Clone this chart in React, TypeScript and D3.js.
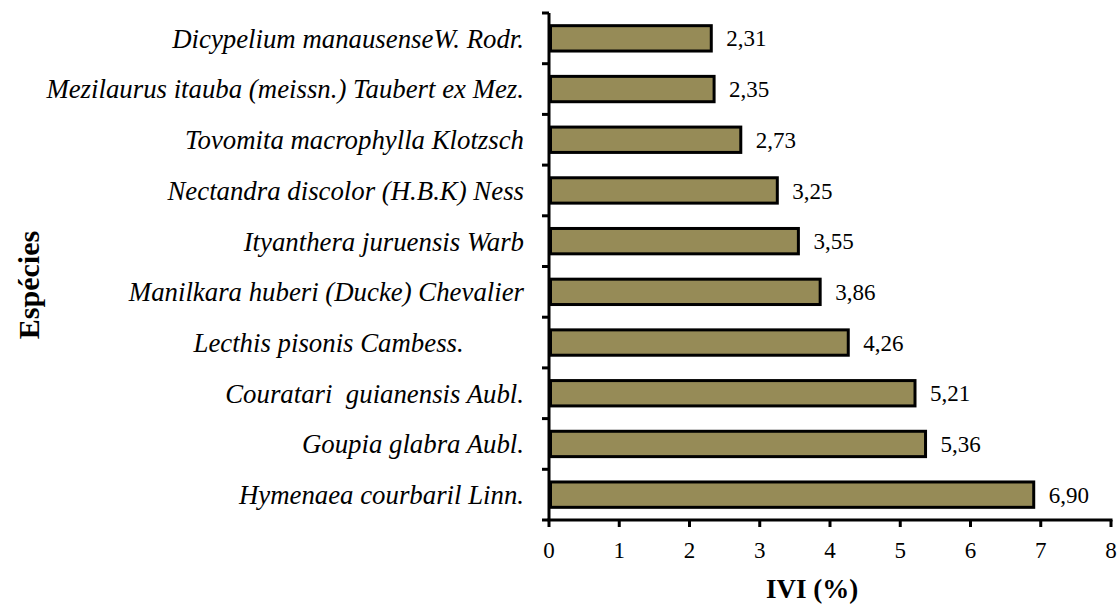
import React, { useEffect, useRef } from "react";
import * as d3 from "d3";

// species, top to bottom as drawn (trailing/double spaces kept as in the source)
const species = [
  "Dicypelium manausenseW. Rodr.",
  "Mezilaurus itauba (meissn.) Taubert ex Mez.",
  "Tovomita macrophylla Klotzsch",
  "Nectandra discolor (H.B.K) Ness",
  "Ityanthera juruensis Warb",
  "Manilkara huberi (Ducke) Chevalier",
  "Lecthis pisonis Cambess.         ",
  "Couratari  guianensis Aubl.",
  "Goupia glabra Aubl.",
  "Hymenaea courbaril Linn.",
];
const ivi = [2.31, 2.35, 2.73, 3.25, 3.55, 3.86, 4.26, 5.21, 5.36, 6.9];
const xTicks = [0, 1, 2, 3, 4, 5, 6, 7, 8];

const W = 1120;
const H = 605;
const FONT = "'Liberation Serif', 'Times New Roman', serif";

const App = () => {
  const svgRef = useRef(null);

  useEffect(() => {
    const svg = d3.select(svgRef.current);
    svg.selectAll("*").remove();

    const margin = { top: 13, right: 9, bottom: 85, left: 549 };

    const xScale = d3
      .scaleLinear()
      .domain([0, 8])
      .range([margin.left, W - margin.right]);

    const yScale = d3
      .scaleBand()
      .domain(species)
      .range([margin.top, H - margin.bottom])
      .paddingInner(0.5)
      .paddingOuter(0.25);

    const step = yScale.step();
    const bottom = H - margin.bottom;

    // bars
    svg
      .append("g")
      .selectAll("rect")
      .data(species)
      .enter()
      .append("rect")
      .attr("x", xScale(0) + 1.5)
      .attr("y", (d) => yScale(d))
      .attr("width", (d, i) => xScale(ivi[i]) - xScale(0) - 1.5)
      .attr("height", yScale.bandwidth())
      .attr("fill", "#968b57")
      .attr("stroke", "#000")
      .attr("stroke-width", 3);

    // value labels
    svg
      .append("g")
      .selectAll("text")
      .data(species)
      .enter()
      .append("text")
      .attr("x", (d, i) => xScale(ivi[i]) + 15)
      .attr("y", (d) => yScale(d) + yScale.bandwidth() / 2)
      .attr("dy", "0.35em")
      .style("font-family", FONT)
      .style("font-size", "23px")
      .text((d, i) => ivi[i].toFixed(2).replace(".", ","));

    // y axis line + ticks between categories
    const yAxis = svg.append("g");
    yAxis
      .append("line")
      .attr("x1", xScale(0))
      .attr("x2", xScale(0))
      .attr("y1", margin.top)
      .attr("y2", bottom)
      .attr("stroke", "#000")
      .attr("stroke-width", 3);
    yAxis
      .selectAll(".ytick")
      .data(d3.range(species.length + 1))
      .enter()
      .append("line")
      .attr("x1", xScale(0) - 7)
      .attr("x2", xScale(0))
      .attr("y1", (i) => margin.top + i * step)
      .attr("y2", (i) => margin.top + i * step)
      .attr("stroke", "#000")
      .attr("stroke-width", 3);

    // category labels
    yAxis
      .selectAll(".ylabel")
      .data(species)
      .enter()
      .append("text")
      .attr("xml:space", "preserve")
      .attr("x", xScale(0) - 25)
      .attr("y", (d) => yScale(d) + yScale.bandwidth() / 2)
      .attr("dy", "0.35em")
      .attr("text-anchor", "end")
      .style("font-family", FONT)
      .style("font-size", "26.8px")
      .style("font-style", "italic")
      .style("white-space", "pre")
      .text((d) => d);

    // x axis
    const xAxis = svg.append("g");
    xAxis
      .append("line")
      .attr("x1", xScale(0) - 1.5)
      .attr("x2", xScale(8) + 1.5)
      .attr("y1", bottom)
      .attr("y2", bottom)
      .attr("stroke", "#000")
      .attr("stroke-width", 3);
    xAxis
      .selectAll(".xtick")
      .data(xTicks)
      .enter()
      .append("line")
      .attr("x1", (d) => xScale(d))
      .attr("x2", (d) => xScale(d))
      .attr("y1", bottom)
      .attr("y2", bottom + 7)
      .attr("stroke", "#000")
      .attr("stroke-width", 3);
    xAxis
      .selectAll(".xlabel")
      .data(xTicks)
      .enter()
      .append("text")
      .attr("x", (d) => xScale(d))
      .attr("y", bottom + 38)
      .attr("text-anchor", "middle")
      .style("font-family", FONT)
      .style("font-size", "23px")
      .text((d) => d);

    // axis titles
    svg
      .append("text")
      .attr("x", 812)
      .attr("y", 598)
      .attr("text-anchor", "middle")
      .style("font-family", FONT)
      .style("font-size", "27px")
      .style("font-weight", "bold")
      .text("IVI (%)");

    svg
      .append("text")
      .attr("transform", "translate(28, 285) rotate(-90)")
      .attr("dy", "0.35em")
      .attr("text-anchor", "middle")
      .style("font-family", FONT)
      .style("font-size", "30px")
      .style("font-weight", "bold")
      .text("Espécies");
  }, []);

  return (
    <div style={{ position: "absolute", left: 0, top: 0, background: "#fff" }}>
      <svg ref={svgRef} width={W} height={H} style={{ display: "block" }}></svg>
    </div>
  );
};

export default App;
